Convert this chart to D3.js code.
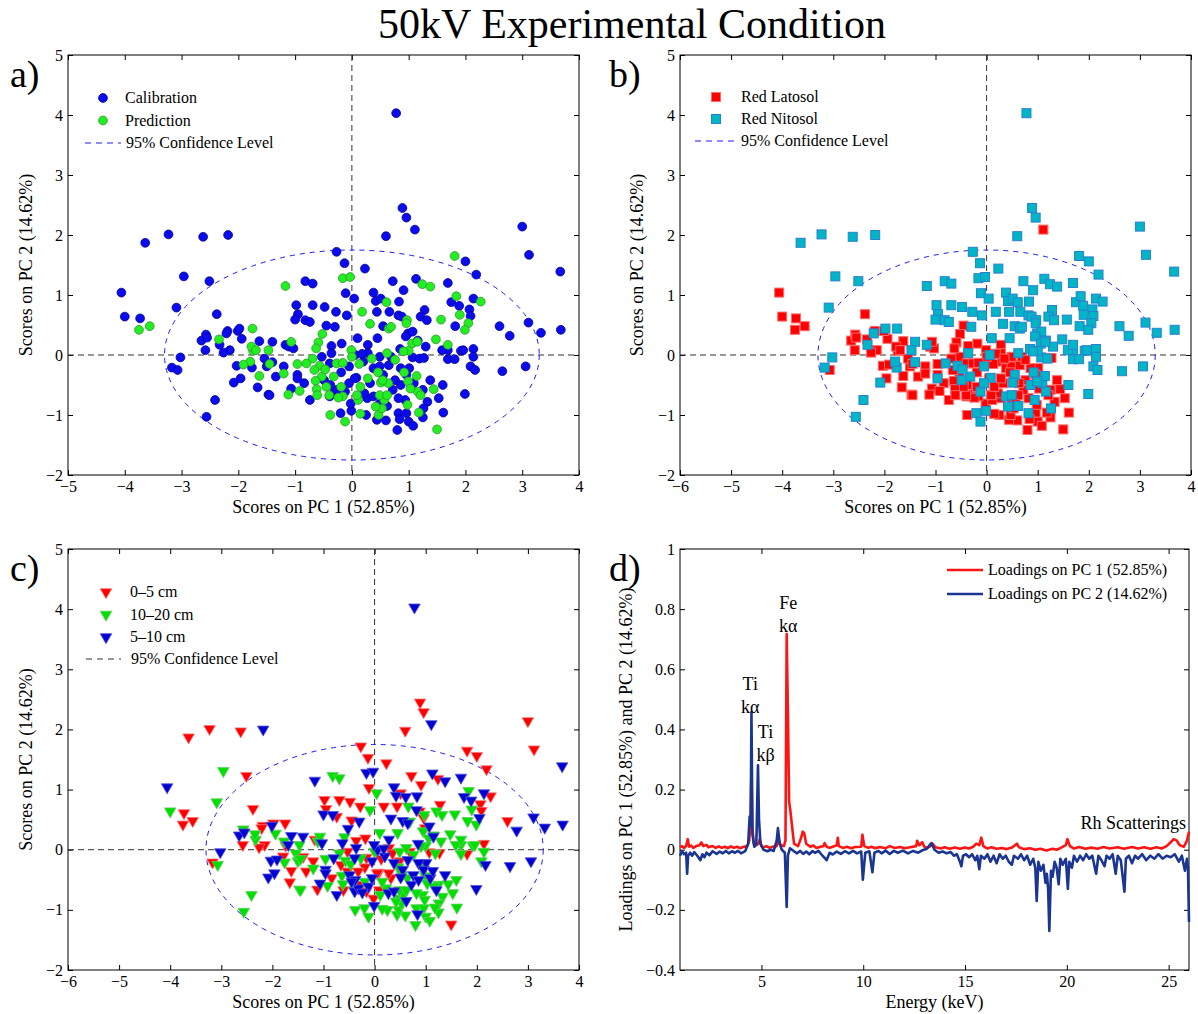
<!DOCTYPE html>
<html>
<head>
<meta charset="utf-8">
<script src="https://cdn.jsdelivr.net/npm/d3@7"></script>
<style>
  body { margin: 0; background: #fff; }
  svg { display: block; font-family: "Liberation Serif", "Times New Roman", serif; }
</style>
</head>
<body>
<div id="chart"></div>
<script>
// ---- data ----
// score rows: [PC1, PC2, soil (L = Red Latosol, N = Red Nitosol), depth (a = 0-5, b = 5-10, c = 10-20 cm)]
const calibrationScores = [
  [0.78,4.03,"N","b"],[-4.06,1.04,"L","b"],[-4.0,0.64,"L","c"],[-3.73,0.61,"L","a"],[-3.64,1.87,"N","a"],
  [-3.23,2.01,"N","a"],[-2.62,1.97,"N","a"],[-2.18,2.0,"N","b"],[-2.96,1.31,"N","c"],[-3.09,0.79,"N","c"],
  [-2.51,1.23,"N","a"],[-2.38,0.68,"L","a"],[-3.02,-0.04,"N","b"],[-3.17,-0.21,"N","a"],[-3.07,-0.25,"L","c"],
  [-2.56,-1.03,"N","c"],[-2.41,-0.75,"N","c"],[0.89,2.45,"N","a"],[0.96,2.29,"N","a"],[1.11,2.09,"L","b"],
  [0.60,1.98,"N","a"],[-0.27,1.72,"N","a"],[-0.13,1.53,"N","a"],[0.23,1.44,"N","a"],[3.0,2.14,"N","a"],
  [3.12,1.67,"N","a"],[3.67,1.39,"N","b"],[3.68,0.42,"N","b"],[3.33,0.37,"N","b"],[3.11,0.54,"N","b"],
  [2.60,0.48,"N","a"],[2.78,0.32,"N","b"],[2.65,-0.27,"N","b"],[3.06,-0.19,"N","b"],[2.0,1.56,"N","a"],
  [2.19,1.34,"N","a"],[1.69,1.2,"N","b"],[1.13,1.27,"N","b"],[0.72,1.23,"N","a"],[-0.82,1.23,"N","c"],
  [-0.69,1.19,"N","c"],[-0.11,1.03,"N","a"],[0.04,0.94,"N","c"],[0.38,1.04,"N","b"],[0.91,1.08,"N","a"],
  [2.14,0.94,"N","b"],[1.75,0.88,"N","b"],[1.89,0.82,"N","b"],[2.07,0.76,"N","a"],[2.09,0.65,"N","a"],
  [1.82,0.48,"N","c"],[1.28,0.75,"N","a"],[1.21,0.64,"N","c"],[1.32,0.58,"N","c"],[0.83,0.89,"N","b"],
  [0.42,0.9,"N","b"],[0.51,0.94,"N","a"],[0.44,0.72,"N","a"],[0.66,0.72,"N","c"],[0.82,0.66,"N","b"],
  [0.88,0.64,"N","a"],[0.55,0.48,"N","b"],[0.45,0.28,"N","c"],[0.1,0.28,"N","c"],[0.28,0.17,"L","b"],
  [-0.09,0.66,"N","c"],[-0.28,0.72,"N","a"],[-0.48,0.8,"N","a"],[-0.3,0.47,"N","b"],[-0.45,0.49,"L","a"],
  [-0.69,0.83,"N","a"],[-0.98,0.83,"N","a"],[-0.95,0.68,"N","a"],[-1.0,0.59,"N","b"],[-0.82,0.58,"N","b"],
  [-0.74,0.55,"N","a"],[-0.36,0.15,"L","a"],[-0.18,0.19,"L","a"],[0.99,0.36,"N","a"],[1.07,0.39,"N","b"],
  [0.95,0.31,"N","c"],[1.16,0.24,"N","c"],[1.69,0.08,"N","c"],[1.59,0.08,"N","c"],[1.92,0.07,"N","c"],
  [2.14,0.1,"N","a"],[2.14,-0.03,"N","c"],[1.69,-0.07,"N","c"],[1.81,-0.07,"N","a"],[2.09,-0.19,"N","c"],
  [2.17,-0.25,"N","b"],[1.99,-0.65,"N","b"],[1.6,-0.5,"N","c"],[1.38,-0.42,"L","b"],[1.53,-0.72,"L","c"],
  [1.61,-0.96,"L","c"],[1.25,-1.04,"L","c"],[1.25,-0.58,"L","c"],[1.01,-0.22,"L","b"],[1.07,-0.04,"N","a"],
  [1.19,-0.06,"N","c"],[1.27,-0.05,"L","a"],[1.3,0.14,"N","c"],[0.85,0.1,"N","b"],[0.86,-0.22,"L","b"],
  [0.94,-0.75,"N","c"],[0.82,-0.72,"L","c"],[0.82,-0.97,"N","c"],[0.96,-0.97,"L","c"],[1.0,-1.11,"L","c"],
  [1.08,-1.18,"L","c"],[0.8,-1.25,"L","c"],[0.84,-1.07,"L","b"],[0.6,-1.09,"L","c"],[0.44,-1.08,"L","c"],
  [0.25,-1.0,"L","c"],[-0.01,-0.93,"N","b"],[-0.2,-0.97,"N","c"],[0.27,-0.72,"L","b"],[0.08,-0.38,"N","a"],
  [0.2,-0.11,"L","b"],[0.06,0.0,"N","b"],[-0.19,-0.29,"L","a"],[-1.07,-0.56,"L","b"],[-1.34,-0.36,"L","a"],
  [-1.47,-0.66,"L","c"],[-1.66,-0.54,"L","a"],[-1.4,0.22,"N","b"],[-1.63,0.23,"L","b"],[-1.94,0.27,"L","c"],
  [-2.01,0.4,"L","b"],[-1.98,0.44,"N","a"],[-2.19,0.4,"L","a"],[-2.21,0.36,"N","a"],[-2.15,0.08,"L","a"],
  [-2.26,0.04,"L","a"],[-2.33,0.17,"N","c"],[-2.58,0.08,"L","a"],[-2.65,0.24,"L","b"],[-2.57,0.34,"L","c"],
  [-2.55,0.29,"L","b"],[-2.08,-0.46,"N","b"],[-1.96,-0.39,"L","b"],[-2.03,-0.18,"L","b"],[-1.76,-0.21,"N","c"],
  [-1.5,-0.19,"L","c"],[-1.45,-0.67,"L","c"],[-1.17,0.17,"N","a"],[-1.11,0.14,"L","c"],[-1.03,0.11,"L","b"],
  [-1.2,-0.19,"L","a"],[-0.96,-0.33,"L","b"],[-0.84,-0.47,"L","a"],[-0.96,-0.39,"N","b"],[-1.4,-0.12,"N","a"],
  [-1.54,-0.06,"L","c"],[-0.74,-0.75,"L","b"],[-0.39,-0.69,"L","b"],[-0.32,-0.64,"L","b"],[-0.26,-0.58,"L","a"],
  [-0.12,-0.61,"N","b"],[-0.02,-0.81,"L","a"],[-0.05,-0.47,"N","b"],[0.05,-0.39,"L","a"],[-0.05,-0.19,"N","b"],
  [-0.36,0.03,"N","b"],[-0.53,-0.03,"L","a"],[-0.39,-0.14,"L","b"],[-0.49,-0.42,"N","b"],[-0.38,-0.5,"L","b"],
  [0.38,-0.22,"L","b"],[0.49,-0.19,"L","a"],[0.65,-0.17,"L","b"],[0.55,-0.33,"N","b"],[0.32,-0.47,"L","a"],
  [0.22,-0.64,"L","c"],[0.38,-0.69,"N","b"],[0.49,-0.81,"L","c"],[0.62,-0.85,"N","b"],[0.72,-0.58,"L","b"],
  [0.76,-0.42,"L","b"],[0.86,-0.5,"N","b"],[0.96,-0.33,"L","b"],[1.09,-0.47,"N","b"],[1.33,-0.78,"L","c"],
  [1.26,-0.89,"N","c"],[0.28,0.03,"L","a"],[0.49,-0.03,"L","c"],[0.69,-0.03,"L","a"],[0.18,0.02,"L","b"],
  [1.96,0.08,"N","c"]
];

const predictionScores = [
  [-3.75,0.42,"L","a"],[-3.56,0.48,"L","a"],[1.81,1.65,"N","a"],[1.24,1.18,"N","a"],[1.38,1.14,"N","b"],
  [-0.16,1.28,"N","b"],[-0.03,1.3,"N","b"],[-1.17,1.15,"N","b"],[1.84,0.98,"N","c"],[2.27,0.89,"N","a"],
  [1.9,0.67,"N","c"],[2.05,0.53,"N","b"],[1.99,0.42,"N","c"],[1.57,0.59,"N","c"],[0.97,0.58,"N","c"],
  [0.96,0.53,"N","a"],[0.61,0.88,"N","b"],[0.18,0.72,"N","a"],[0.32,0.52,"N","b"],[0.65,0.44,"N","b"],
  [0.69,0.47,"N","c"],[-0.52,0.35,"L","b"],[-0.59,0.21,"L","c"],[-0.01,0.08,"L","b"],[1.06,0.19,"N","c"],
  [1.15,0.22,"N","b"],[1.48,0.26,"N","c"],[1.69,0.17,"N","c"],[1.44,-0.57,"L","c"],[1.5,-1.24,"L","a"],
  [1.18,-0.96,"L","c"],[1.16,-0.61,"N","c"],[1.21,-0.67,"L","b"],[1.14,-0.35,"N","b"],[1.0,0.07,"N","c"],
  [0.91,0.06,"N","c"],[0.76,-0.08,"L","c"],[0.92,-0.29,"N","c"],[0.99,-0.44,"N","c"],[1.03,-0.56,"L","c"],
  [0.98,-0.83,"L","c"],[0.47,-1.0,"L","c"],[0.53,-0.89,"L","c"],[0.42,-0.86,"N","c"],[0.57,-0.75,"L","c"],
  [0.49,-0.67,"N","c"],[0.62,-0.67,"L","c"],[0.64,-0.47,"L","c"],[0.51,-0.46,"N","b"],[0.54,-0.42,"L","c"],
  [0.46,-0.29,"L","c"],[0.35,-0.06,"L","a"],[0.62,0.03,"N","c"],[0.15,-0.98,"L","c"],[-0.12,-1.11,"N","c"],
  [-0.38,-1.0,"L","c"],[0.11,-0.75,"L","c"],[0.09,-0.67,"L","a"],[0.15,-0.53,"L","c"],[0.28,-0.39,"L","a"],
  [0.13,-0.15,"L","a"],[0.0,-0.03,"L","c"],[-0.27,-0.14,"L","c"],[-0.16,-0.13,"L","a"],[-0.32,-0.36,"N","a"],
  [-0.19,-0.53,"L","c"],[-0.16,-0.69,"L","a"],[-0.24,-0.71,"L","b"],[-0.4,-0.67,"L","c"],[-0.45,-0.53,"L","b"],
  [-0.53,-0.36,"L","a"],[-0.64,-0.43,"L","c"],[-0.57,-0.18,"N","c"],[-0.66,-0.25,"L","a"],[-0.47,-0.24,"N","c"],
  [-0.69,-0.06,"L","c"],[-0.63,0.11,"L","b"],[-0.8,-0.14,"N","b"],[-0.96,-0.15,"L","c"],[-0.62,-0.57,"L","c"],
  [-0.61,-0.67,"L","a"],[-0.92,-0.6,"L","c"],[-1.12,-0.66,"L","a"],[-1.2,-0.31,"L","c"],[-1.07,0.22,"L","c"],
  [-1.63,-0.35,"L","a"],[-1.45,-0.15,"L","c"],[-1.47,0.08,"N","c"],[-1.74,0.07,"L","a"],[-1.77,0.14,"L","c"],
  [-1.69,0.08,"L","b"],[-1.79,-0.11,"N","a"],[-1.91,-0.16,"L","b"],[-1.75,0.44,"N","a"],[-2.34,0.26,"L","c"]
];

const setNames = ["Calibration", "Prediction"];
const soilNames = ["Red Latosol", "Red Nitosol"];
const depthNames = ["0\u20135 cm", "10\u201320 cm", "5\u201310 cm"];
const depthCodes = ["a", "c", "b"];
const confidenceLabel = "95% Confidence Level";
const ellipseSemiAxes = [3.3, 1.75]; // 95% limit on PC1, PC2

// loadings rows: [energy keV, loading]
const pc1Loadings = [
  [1.0,0.008],[1.1,0.012],[1.2,0.006],[1.3,0.012],[1.38,0.035],[1.45,0.01],[1.55,0.014],[1.65,0.006],[1.8,0.012],[1.95,0.015],
  [2.05,0.024],[2.15,0.012],[2.3,0.016],[2.4,0.008],[2.6,0.012],[2.75,0.006],[2.9,0.011],[3.05,0.006],[3.2,0.01],[3.35,0.005],
  [3.5,0.011],[3.65,0.006],[3.8,0.01],[3.95,0.005],[4.1,0.009],[4.3,0.012],[4.4,0.03],[4.47,0.1],[4.51,0.27],[4.55,0.08],
  [4.62,0.02],[4.75,0.015],[4.85,0.02],[4.92,0.035],[5.0,0.012],[5.1,0.008],[5.25,0.012],[5.4,0.006],[5.55,0.01],[5.75,0.012],
  [5.85,0.03],[5.95,0.015],[6.1,0.012],[6.18,0.03],[6.24,0.717],[6.3,0.45],[6.36,0.16],[6.42,0.13],[6.5,0.08],[6.6,0.02],
  [6.8,0.012],[6.95,0.04],[7.03,0.06],[7.1,0.055],[7.2,0.02],[7.4,0.01],[7.55,0.014],[7.7,0.006],[7.9,0.01],[8.05,0.012],
  [8.1,0.022],[8.2,0.01],[8.35,0.006],[8.5,0.01],[8.7,0.015],[8.75,0.04],[8.8,0.012],[9.0,0.006],[9.2,0.01],[9.4,0.005],
  [9.6,0.009],[9.9,0.01],[9.96,0.05],[10.05,0.012],[10.25,0.006],[10.4,0.01],[10.6,0.005],[10.8,0.009],[11.1,0.005],[11.3,0.012],
  [11.55,0.006],[11.8,0.009],[12.05,0.005],[12.3,0.008],[12.6,0.012],[12.65,0.03],[12.75,0.015],[12.9,0.025],[13.0,0.01],[13.15,0.006],
  [13.3,0.012],[13.4,0.02],[13.55,0.008],[13.8,0.004],[14.0,0.008],[14.25,0.003],[14.5,0.007],[14.75,0.003],[15.0,0.007],[15.2,0.004],
  [15.4,0.01],[15.55,0.02],[15.7,0.015],[15.8,0.04],[15.9,0.012],[16.1,0.004],[16.3,0.008],[16.55,0.003],[16.8,0.006],[17.05,0.002],
  [17.3,0.007],[17.55,0.02],[17.65,0.008],[17.9,0.002],[18.2,0.005],[18.45,0.0],[18.7,0.003],[19.0,-0.003],[19.3,0.003],[19.5,0.0],
  [19.7,0.006],[19.95,0.015],[20.03,0.035],[20.15,0.012],[20.35,0.004],[20.6,0.009],[20.9,0.003],[21.2,0.007],[21.5,0.003],[21.8,0.009],
  [22.1,0.004],[22.5,0.008],[22.8,0.003],[23.2,0.009],[23.5,0.004],[23.8,0.008],[24.1,0.003],[24.4,0.008],[24.65,0.004],[24.9,0.012],
  [25.1,0.025],[25.25,0.035],[25.4,0.03],[25.55,0.015],[25.75,0.01],[25.9,0.03],[26.0,0.06]
];

const pc2Loadings = [
  [1.0,-0.02],[1.1,-0.005],[1.2,-0.015],[1.3,-0.01],[1.35,-0.08],[1.4,-0.02],[1.5,-0.01],[1.6,-0.02],[1.7,-0.008],[1.85,-0.02],
  [2.0,-0.035],[2.1,-0.015],[2.2,-0.025],[2.3,-0.01],[2.45,-0.018],[2.6,-0.005],[2.8,-0.014],[2.95,-0.006],[3.1,-0.012],[3.25,-0.004],
  [3.4,-0.012],[3.55,-0.005],[3.7,-0.01],[3.85,-0.004],[4.0,-0.012],[4.2,-0.005],[4.35,0.02],[4.42,0.11],[4.47,0.08],[4.51,0.458],
  [4.56,0.05],[4.65,0.01],[4.75,0.02],[4.83,0.281],[4.88,0.1],[4.95,0.02],[5.1,0.0],[5.3,-0.005],[5.45,0.0],[5.6,-0.004],
  [5.75,0.03],[5.81,0.072],[5.9,0.02],[6.0,0.0],[6.15,-0.01],[6.24,-0.19],[6.3,-0.02],[6.4,0.005],[6.6,-0.005],[6.75,-0.012],
  [6.9,-0.004],[7.05,-0.014],[7.2,-0.006],[7.35,-0.015],[7.5,-0.005],[7.65,-0.01],[7.8,-0.004],[8.0,-0.02],[8.2,-0.035],[8.35,-0.01],
  [8.5,-0.016],[8.7,-0.006],[8.9,-0.014],[9.1,-0.005],[9.3,-0.012],[9.5,-0.004],[9.7,-0.012],[9.9,-0.006],[9.98,-0.1],[10.1,-0.01],
  [10.3,-0.005],[10.45,-0.075],[10.55,-0.01],[10.75,-0.004],[10.9,-0.012],[11.1,-0.003],[11.3,-0.014],[11.5,-0.004],[11.7,-0.01],[11.95,-0.003],
  [12.2,-0.012],[12.45,-0.004],[12.7,-0.01],[12.9,-0.002],[13.1,0.002],[13.35,0.022],[13.5,0.0],[13.7,-0.01],[13.9,-0.006],[14.1,-0.012],
  [14.3,-0.008],[14.45,-0.02],[14.6,-0.015],[14.75,-0.04],[14.82,-0.055],[14.9,-0.02],[15.05,-0.015],[15.2,-0.025],[15.35,-0.015],[15.5,-0.035],
  [15.6,-0.02],[15.7,-0.065],[15.78,-0.02],[15.95,-0.03],[16.1,-0.015],[16.25,-0.04],[16.4,-0.02],[16.55,-0.045],[16.7,-0.015],[16.85,-0.03],
  [17.0,-0.02],[17.15,-0.04],[17.3,-0.05],[17.4,-0.02],[17.6,-0.03],[17.75,-0.015],[17.9,-0.035],[18.05,-0.02],[18.2,-0.05],[18.35,-0.03],
  [18.45,-0.06],[18.52,-0.17],[18.6,-0.04],[18.72,-0.07],[18.85,-0.05],[18.95,-0.11],[19.02,-0.08],[19.08,-0.13],[19.14,-0.27],[19.22,-0.07],
  [19.3,-0.09],[19.4,-0.04],[19.5,-0.06],[19.6,-0.115],[19.68,-0.03],[19.8,-0.05],[19.95,-0.03],[20.05,-0.13],[20.12,-0.04],[20.25,-0.06],
  [20.35,-0.02],[20.5,-0.04],[20.65,-0.02],[20.8,-0.035],[20.95,-0.015],[21.1,-0.03],[21.25,-0.02],[21.44,-0.08],[21.55,-0.02],[21.7,-0.035],
  [21.85,-0.055],[21.95,-0.02],[22.1,-0.03],[22.25,-0.015],[22.4,-0.08],[22.5,-0.02],[22.65,-0.035],[22.83,-0.14],[22.9,-0.03],[23.05,-0.02],
  [23.2,-0.045],[23.35,-0.02],[23.5,-0.03],[23.7,-0.015],[23.9,-0.035],[24.1,-0.02],[24.3,-0.03],[24.5,-0.015],[24.7,-0.03],[24.9,-0.02],
  [25.1,-0.025],[25.3,-0.015],[25.5,-0.04],[25.65,-0.02],[25.8,-0.07],[25.9,-0.03],[25.95,-0.06],[26.0,-0.24]
];
const loadingNames = ["Loadings on PC 1 (52.85%)", "Loadings on PC 2 (14.62%)"];
// peak annotations: [energy, loading, line1, line2]
const peakLabels = [
  [6.32, 0.80, "Fe", "k\u03b1"],
  [4.45, 0.53, "Ti", "k\u03b1"],
  [5.2, 0.37, "Ti", "k\u03b2"]
];

const scoreYTicks = [-2, -1, 0, 1, 2, 3, 4, 5];
const loadYTicks = [-0.4, -0.2, 0, 0.2, 0.4, 0.6, 0.8, 1];
const energyTicks = [5, 10, 15, 20, 25];

// ---- setup ----
const W = 1198, H = 1014;
const svg = d3.select("#chart").append("svg").attr("width", W).attr("height", H);
svg.append("rect").attr("width", W).attr("height", H).attr("fill", "#fff");

svg.append("text")
  .attr("x", 632).attr("y", 38)
  .attr("text-anchor", "middle")
  .style("font-size", "42px")
  .text("50kV Experimental Condition");

const fmt = d => d3.format("~g")(d);

function makePanel(box, xDomain, yDomain, xTicks, yTicks, letter, letterX, xLabel, yLabel, yLabelX) {
  const x = d3.scaleLinear().domain(xDomain).range([box.left, box.right]);
  const y = d3.scaleLinear().domain(yDomain).range([box.bottom, box.top]);
  const g = svg.append("g");

  g.append("g").attr("transform", `translate(0,${box.bottom})`)
    .call(d3.axisBottom(x).tickValues(xTicks).tickSize(-5).tickSizeOuter(0).tickPadding(6).tickFormat(fmt))
    .call(a => a.select(".domain").remove());
  g.append("g").attr("transform", `translate(0,${box.top})`)
    .call(d3.axisTop(x).tickValues(xTicks).tickSize(-5).tickSizeOuter(0).tickFormat(""))
    .call(a => a.select(".domain").remove());
  g.append("g").attr("transform", `translate(${box.left},0)`)
    .call(d3.axisLeft(y).tickValues(yTicks).tickSize(-5).tickSizeOuter(0).tickPadding(5).tickFormat(fmt))
    .call(a => a.select(".domain").remove());
  g.append("g").attr("transform", `translate(${box.right},0)`)
    .call(d3.axisRight(y).tickValues(yTicks).tickSize(-5).tickSizeOuter(0).tickFormat(""))
    .call(a => a.select(".domain").remove());
  g.selectAll(".tick text")
    .style("font-family", "Liberation Serif, Times New Roman, serif")
    .style("font-size", "16px").attr("fill", "#000");
  g.selectAll(".tick line").attr("stroke", "#000");

  g.append("rect")
    .attr("x", box.left).attr("y", box.top)
    .attr("width", box.right - box.left).attr("height", box.bottom - box.top)
    .attr("fill", "none").attr("stroke", "#000").attr("stroke-width", 1);

  svg.append("text").attr("x", letterX).attr("y", box.top + 32)
    .style("font-size", "38px").text(letter);

  svg.append("text")
    .attr("x", (box.left + box.right) / 2).attr("y", box.bottom + 38)
    .attr("text-anchor", "middle").style("font-size", "18px").text(xLabel);

  svg.append("text")
    .attr("transform", `translate(${yLabelX},${(box.top + box.bottom) / 2}) rotate(-90)`)
    .attr("text-anchor", "middle").style("font-size", "18px").text(yLabel);

  const plot = g.append("g");
  return { x, y, g: plot, box };
}

function drawGuides(p) {
  const { x, y, g, box } = p;
  g.append("line").attr("x1", x(0)).attr("x2", x(0)).attr("y1", box.top).attr("y2", box.bottom)
    .attr("stroke", "#333").attr("stroke-dasharray", "6,4");
  g.append("line").attr("x1", box.left).attr("x2", box.right).attr("y1", y(0)).attr("y2", y(0))
    .attr("stroke", "#333").attr("stroke-dasharray", "6,4");
  g.append("ellipse")
    .attr("cx", x(0)).attr("cy", y(0))
    .attr("rx", x(ellipseSemiAxes[0]) - x(0))
    .attr("ry", y(0) - y(ellipseSemiAxes[1]))
    .attr("fill", "none").attr("stroke", "#1a1aff").attr("stroke-width", 1)
    .attr("stroke-dasharray", "5,5");
}

function legendDash(g, x1, x2, yv, color) {
  g.append("line").attr("x1", x1).attr("x2", x2).attr("y1", yv).attr("y2", yv)
    .attr("stroke", color).attr("stroke-dasharray", "6,5");
}

const allScores = calibrationScores.map(d => ({ pc1: d[0], pc2: d[1], set: 0, soil: d[2], depth: d[3] }))
  .concat(predictionScores.map(d => ({ pc1: d[0], pc2: d[1], set: 1, soil: d[2], depth: d[3] })));

const pcXLabel = "Scores on PC 1 (52.85%)";
const pcYLabel = "Scores on PC 2 (14.62%)";

// ---- a) calibration / prediction ----
const pA = makePanel({ left: 68, right: 579, top: 55, bottom: 475 }, [-5, 4], [-2, 5],
  d3.range(-5, 5), scoreYTicks, "a)", 10, pcXLabel, pcYLabel, 32);
drawGuides(pA);
const setStyle = [
  { fill: "#0b0bee", stroke: "#00009a" },
  { fill: "#22ee22", stroke: "#2f962f" }
];
[0, 1].forEach(s => {
  pA.g.selectAll(null).data(allScores.filter(d => d.set === s)).join("circle")
    .attr("cx", d => pA.x(d.pc1)).attr("cy", d => pA.y(d.pc2)).attr("r", 4.4)
    .attr("fill", setStyle[s].fill).attr("stroke", setStyle[s].stroke).attr("stroke-width", 0.8);
});
setNames.forEach((n, i) => {
  const yy = 98 + i * 22.5;
  pA.g.append("circle").attr("cx", 103).attr("cy", yy).attr("r", 4.4)
    .attr("fill", setStyle[i].fill).attr("stroke", setStyle[i].stroke).attr("stroke-width", 0.8);
  pA.g.append("text").attr("x", 125).attr("y", yy + 5).style("font-size", "16px").text(n);
});
legendDash(pA.g, 85, 121, 143, "#1a1aff");
pA.g.append("text").attr("x", 126).attr("y", 148).style("font-size", "16px").text(confidenceLabel);

// ---- b) soil type ----
const pB = makePanel({ left: 680, right: 1191, top: 55, bottom: 475 }, [-6, 4], [-2, 5],
  d3.range(-6, 5), scoreYTicks, "b)", 609, pcXLabel, pcYLabel, 643);
drawGuides(pB);
const soilStyle = {
  L: { fill: "#ff0000", stroke: "#ff6a6a" },
  N: { fill: "#00b5c5", stroke: "#2a80d0" }
};
const sq = 9;
["L", "N"].forEach(s => {
  pB.g.selectAll(null).data(allScores.filter(d => d.soil === s)).join("rect")
    .attr("x", d => pB.x(d.pc1) - sq / 2).attr("y", d => pB.y(d.pc2) - sq / 2)
    .attr("width", sq).attr("height", sq)
    .attr("fill", soilStyle[s].fill).attr("stroke", soilStyle[s].stroke).attr("stroke-width", 1);
});
soilNames.forEach((n, i) => {
  const yy = 97 + i * 22;
  const s = i === 0 ? "L" : "N";
  pB.g.append("rect").attr("x", 716 - sq / 2).attr("y", yy - sq / 2).attr("width", sq).attr("height", sq)
    .attr("fill", soilStyle[s].fill).attr("stroke", soilStyle[s].stroke);
  pB.g.append("text").attr("x", 741).attr("y", yy + 5).style("font-size", "16px").text(n);
});
legendDash(pB.g, 695, 734, 141, "#1a1aff");
pB.g.append("text").attr("x", 741).attr("y", 146).style("font-size", "16px").text(confidenceLabel);

// ---- c) depth ----
const pC = makePanel({ left: 68, right: 579, top: 549, bottom: 970 }, [-6, 4], [-2, 5],
  d3.range(-6, 5), scoreYTicks, "c)", 10, pcXLabel, pcYLabel, 32);
drawGuides(pC);
const depthStyle = {
  a: { fill: "#ff0000", stroke: "#ff7777" },
  c: { fill: "#00e000", stroke: "#66cc66" },
  b: { fill: "#0000d0", stroke: "#5555dd" }
};
const tri = d3.symbol().type(d3.symbolTriangle).size(58);
depthCodes.forEach(c => {
  pC.g.selectAll(null).data(allScores.filter(d => d.depth === c)).join("path")
    .attr("d", tri)
    .attr("transform", d => `translate(${pC.x(d.pc1)},${pC.y(d.pc2)}) rotate(180)`)
    .attr("fill", depthStyle[c].fill).attr("stroke", depthStyle[c].stroke).attr("stroke-width", 0.8);
});
depthNames.forEach((n, i) => {
  const yy = 592 + i * 22.5;
  const c = depthCodes[i];
  pC.g.append("path").attr("d", tri).attr("transform", `translate(106,${yy}) rotate(180)`)
    .attr("fill", depthStyle[c].fill).attr("stroke", depthStyle[c].stroke).attr("stroke-width", 0.8);
  pC.g.append("text").attr("x", 130).attr("y", yy + 5).style("font-size", "16px").text(n);
});
legendDash(pC.g, 86, 121, 659, "#333");
pC.g.append("text").attr("x", 131).attr("y", 664).style("font-size", "16px").text(confidenceLabel);

// ---- d) loadings ----
const pD = makePanel({ left: 680, right: 1189, top: 549, bottom: 970 }, [1, 26], [-0.4, 1],
  energyTicks, loadYTicks, "d)", 609, "Energy (keV)",
  "Loadings on PC 1 (52.85%) and PC 2 (14.62%)", 632);
const loadColors = ["#ff1414", "#1b3592"];
const line = d3.line().x(d => pD.x(d[0])).y(d => pD.y(d[1]));
[pc1Loadings, pc2Loadings].forEach((series, i) => {
  pD.g.append("path").datum(series).attr("d", line)
    .attr("fill", "none").attr("stroke", loadColors[i]).attr("stroke-width", 2.6)
    .attr("stroke-linejoin", "round");
});
peakLabels.forEach(p => {
  pD.g.append("text").attr("x", pD.x(p[0])).attr("y", pD.y(p[1]))
    .attr("text-anchor", "middle").style("font-size", "18px").text(p[2]);
  pD.g.append("text").attr("x", pD.x(p[0])).attr("y", pD.y(p[1]) + 23)
    .attr("text-anchor", "middle").style("font-size", "18px").text(p[3]);
});
pD.g.append("text").attr("x", pD.x(25.85)).attr("y", pD.y(0.07))
  .attr("text-anchor", "end").style("font-size", "18px").text("Rh Scatterings");
loadingNames.forEach((n, i) => {
  const yy = 570 + i * 24;
  pD.g.append("line").attr("x1", 947).attr("x2", 983).attr("y1", yy).attr("y2", yy)
    .attr("stroke", loadColors[i]).attr("stroke-width", 2.6);
  pD.g.append("text").attr("x", 988).attr("y", yy + 5).style("font-size", "16px").text(n);
});
</script>
</body>
</html>
